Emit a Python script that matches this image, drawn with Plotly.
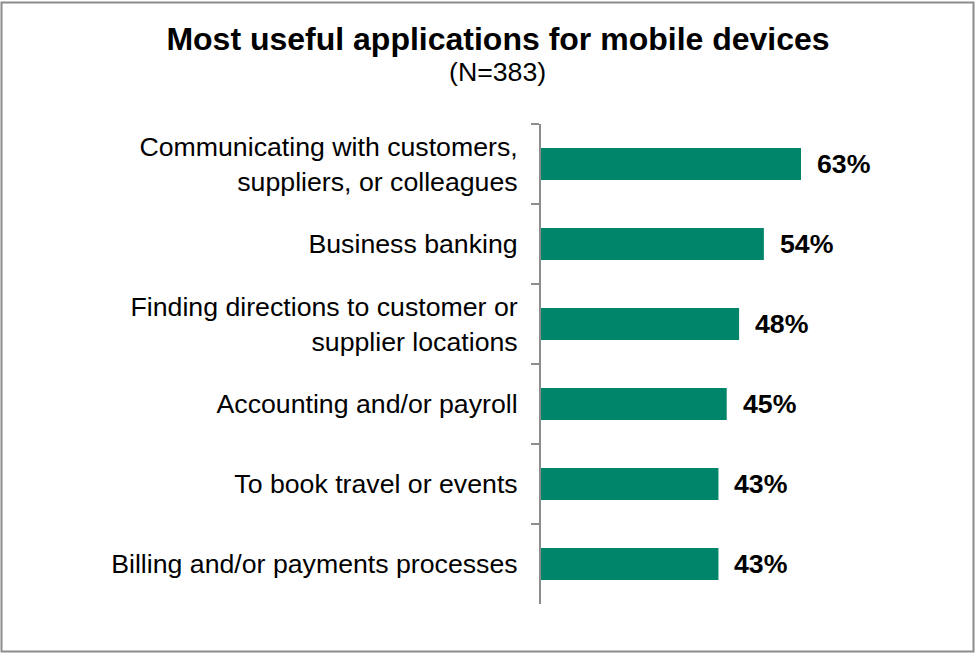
import plotly.graph_objects as go

categories = [
    "Communicating with customers,<br>suppliers, or colleagues",
    "Business banking",
    "Finding directions to customer or<br>supplier locations",
    "Accounting and/or payroll",
    "To book travel or events",
    "Billing and/or payments processes",
]
values = [63, 54, 48, 45, 43, 43]
value_labels = ["63%", "54%", "48%", "45%", "43%", "43%"]

W, H = 975, 653
L, R, T, B = 541, 34, 124, 49
plot_w = W - L - R
plot_h = H - T - B
px_per_unit = 4.127
xmax = plot_w / px_per_unit

FONT = "Arial, Liberation Sans, sans-serif"
BAR = "#00856A"
GRAY = "#8C8C8C"

fig = go.Figure()
fig.add_trace(go.Bar(
    x=values, y=categories, orientation="h",
    marker=dict(color=BAR, line=dict(width=0)),
    width=0.4, hoverinfo="skip",
))

for v, c, t in zip(values, categories, value_labels):
    fig.add_annotation(
        x=v, y=c, xref="x", yref="y", text="<b>%s</b>" % t,
        showarrow=False, xanchor="left", yanchor="middle", xshift=14,
        font=dict(family=FONT, size=26.7, color="black"),
    )

# subtitle
fig.add_annotation(
    x=(497 - L) / plot_w, y=1 + (T - 72) / plot_h, xref="paper", yref="paper",
    text="(N=383)", showarrow=False, xanchor="center", yanchor="middle",
    font=dict(family=FONT, size=26.7, color="black"),
)

# outer border
def px_x(p):
    return (p - L) / plot_w

def px_y(p):
    return 1 - (p - T) / plot_h

fig.add_shape(type="rect", xref="paper", yref="paper",
              x0=px_x(1.5), x1=px_x(973.5), y0=px_y(651.5), y1=px_y(2.5),
              line=dict(color=GRAY, width=2), fillcolor="rgba(0,0,0,0)", layer="below")

fig.update_layout(
    width=W, height=H, autosize=False,
    margin=dict(l=L, r=R, t=T, b=B, pad=0),
    paper_bgcolor="white", plot_bgcolor="white",
    showlegend=False,
    title=dict(
        text="<b>Most useful applications for mobile devices</b>",
        x=498 / W, xref="container", xanchor="center",
        y=1 - 39 / H, yref="container", yanchor="middle",
        font=dict(family=FONT, size=32, color="black"),
    ),
    font=dict(family=FONT, size=26.7, color="black"),
    xaxis=dict(range=[0, xmax], visible=False, showgrid=False, zeroline=False, fixedrange=True),
    yaxis=dict(
        categoryorder="array", categoryarray=categories,
        autorange=False, range=[len(categories) - 0.5, -0.5],
        showline=True, linecolor=GRAY, linewidth=2,
        ticks="outside", tickson="boundaries", ticklen=8, tickwidth=2, tickcolor=GRAY,
        showgrid=False, zeroline=False,
        tickfont=dict(family=FONT, size=26.7, color="black"),
        ticklabelstandoff=16,
    ),
)

fig.write_html(
    "out.html",
    config={"displayModeBar": False},
    post_script="document.body.style.margin='0px';document.body.style.overflow='hidden';",
)
